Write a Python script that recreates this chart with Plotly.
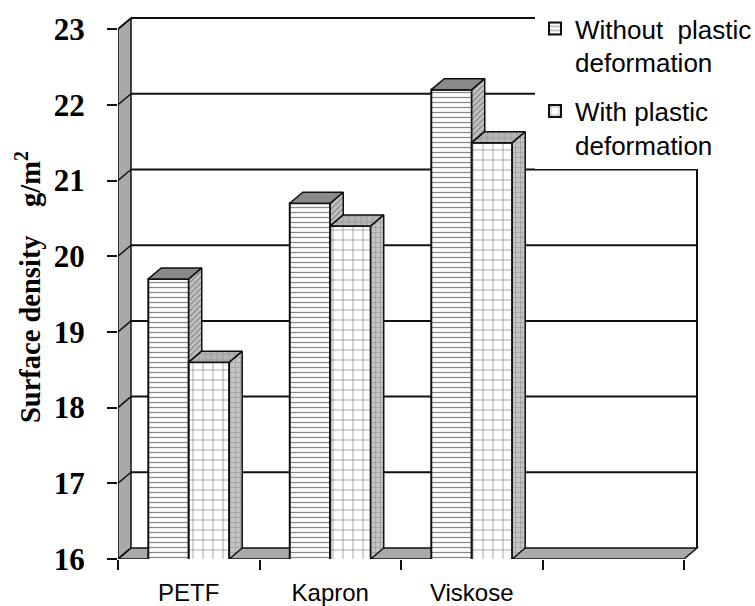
import plotly.graph_objects as go

# ---- data -------------------------------------------------------------
categories = ["PETF", "Kapron", "Viskose"]
series_names = ["Without\u00a0 plastic<br>deformation", "With plastic<br>deformation"]
without_plastic = [19.7, 20.7, 22.2]
with_plastic = [18.6, 20.4, 21.5]
y_ticks = [16, 17, 18, 19, 20, 21, 22, 23]
n_slots = 4  # category slots on the x axis (last one left empty)

# ---- geometry -----------------------------------------------------------
W, H = 755, 606
M_L, M_R, M_T, M_B = 118, 55, 15, 47
SLOT_PX = 141.5          # pixels per category slot
UNIT_PX = 75.7           # pixels per g/m2
DEPTH_PX = (13, 11)      # oblique depth of the pseudo-3D box

plot_w = W - M_L - M_R
plot_h = H - M_T - M_B
x_range = [0, plot_w / SLOT_PX]
y_range = [y_ticks[0], y_ticks[0] + plot_h / UNIT_PX]
DX = DEPTH_PX[0] / SLOT_PX
DY = DEPTH_PX[1] / UNIT_PX
BAR_W = 0.286
Y0, Y1 = y_ticks[0], y_ticks[-1]

INK = "#111111"
WALL = "#a9a9a9"


def poly_path(pts):
    return "M " + " L ".join(f"{x},{y}" for x, y in pts) + " Z"


def poly_xy(polys):
    xs, ys = [], []
    for p in polys:
        for x, y in p + [p[0]]:
            xs.append(x)
            ys.append(y)
        xs.append(None)
        ys.append(None)
    return xs, ys


fig = go.Figure()

# ---- front faces of the columns (real bar traces) ----------------------
centers = [i + 0.5 for i in range(len(categories))]
series = [without_plastic, with_plastic]
offsets = [-BAR_W, 0.0]
patterns = [
    dict(shape="-", fgcolor=INK, bgcolor="white", size=5, solidity=0.25),
    dict(shape="+", fgcolor=INK, bgcolor="white", size=10, solidity=0.14),
]
for k, (name, vals, off, pat) in enumerate(zip(series_names, series, offsets, patterns)):
    fig.add_trace(go.Bar(
        x=centers, y=vals, name=name, offset=off, width=BAR_W,
        marker=dict(color="white", pattern=pat, line=dict(color=INK, width=2)),
        customdata=categories,
        hovertemplate="%{customdata}: %{y} g/m²<extra></extra>",
        legendgroup=f"s{k}",
    ))

# ---- oblique side and top faces -----------------------------------------
top_styles = [
    dict(fillcolor="#8a8a8a", fillpattern=None),
    dict(fillcolor="#b5b5b5",
         fillpattern=dict(shape="+", fgcolor="#555555", bgcolor="#b5b5b5", size=6, solidity=0.15)),
]
side_styles = [
    dict(fillcolor="#bdbdbd",
         fillpattern=dict(shape="/", fgcolor="#444444", bgcolor="#c4c4c4", size=4, solidity=0.3)),
    dict(fillcolor="#c4c4c4",
         fillpattern=dict(shape="+", fgcolor="#555555", bgcolor="#c4c4c4", size=5, solidity=0.2)),
]
for s, (vals, off) in enumerate(zip(series, offsets)):
    sides, tops = [], []
    for i, (c, v) in enumerate(zip(centers, vals)):
        x0 = c + off
        x1 = x0 + BAR_W
        # the neighbouring column in front hides the lower part of the side face
        lo = Y0
        if s + 1 < len(series):
            lo = max(Y0, series[s + 1][i])
        if v > lo:
            sides.append([(x1, lo), (x1, v), (x1 + DX, v + DY), (x1 + DX, lo + DY)])
        tops.append([(x0, v), (x1, v), (x1 + DX, v + DY), (x0 + DX, v + DY)])
    for polys, st in ((sides, side_styles[s]), (tops, top_styles[s])):
        xs, ys = poly_xy(polys)
        kw = dict(x=xs, y=ys, mode="lines", fill="toself",
                  fillcolor=st["fillcolor"], line=dict(color=INK, width=1.5),
                  hoverinfo="skip", showlegend=False)
        if st["fillpattern"]:
            kw["fillpattern"] = st["fillpattern"]
        fig.add_trace(go.Scatter(**kw))

# ---- box: left wall, floor, back grid -----------------------------------
x_end = n_slots
shapes = []
shapes.append(dict(type="path", layer="below", xref="x", yref="y",
                   path=poly_path([(0, Y0), (0, Y1), (DX, Y1 + DY), (DX, Y0 + DY)]),
                   fillcolor=WALL, line=dict(color=INK, width=1.5)))
shapes.append(dict(type="path", layer="below", xref="x", yref="y",
                   path=poly_path([(0, Y0), (x_end, Y0), (x_end + DX, Y0 + DY), (DX, Y0 + DY)]),
                   fillcolor=WALL, line=dict(color=INK, width=1.5)))
for t in y_ticks:
    shapes.append(dict(type="line", layer="below", xref="x", yref="y",
                       x0=0, y0=t, x1=DX, y1=t + DY, line=dict(color=INK, width=1.5)))
    if t > Y0:
        shapes.append(dict(type="line", layer="below", xref="x", yref="y",
                           x0=DX, y0=t + DY, x1=x_end + DX, y1=t + DY,
                           line=dict(color=INK, width=2)))
shapes.append(dict(type="line", layer="below", xref="x", yref="y",
                   x0=x_end + DX, y0=Y0 + DY, x1=x_end + DX, y1=Y1 + DY,
                   line=dict(color=INK, width=2)))

fig.update_layout(
    width=W, height=H,
    margin=dict(l=M_L, r=M_R, t=M_T, b=M_B, autoexpand=False),
    paper_bgcolor="white", plot_bgcolor="white",
    font=dict(family="Liberation Sans", color="black"),
    barmode="overlay",
    shapes=shapes,
    showlegend=True,
    legend=dict(
        x=(535 - M_L) / plot_w, y=(H - M_B - 5) / plot_h,
        xanchor="left", yanchor="top",
        bgcolor="white", borderwidth=0,
        font=dict(family="Liberation Sans", size=26, color="black"),
        valign="top", tracegroupgap=12,
    ),
    xaxis=dict(
        range=x_range, showgrid=False, zeroline=False, showline=False,
        tickmode="array", tickvals=centers, ticktext=categories, ticks="",
        tickfont=dict(family="Liberation Sans", size=24, color="black"),
        ticklabelstandoff=17,
        minor=dict(tickmode="array", tickvals=list(range(n_slots + 1)),
                   ticks="outside", ticklen=10, tickwidth=1.5, tickcolor=INK),
    ),
    yaxis=dict(
        range=y_range, showgrid=False, zeroline=False, showline=False,
        tickmode="array", tickvals=y_ticks,
        ticktext=[f"<b>{t}</b>" for t in y_ticks],
        ticks="outside", ticklen=10, tickwidth=1.5, tickcolor=INK,
        tickfont=dict(family="Liberation Serif", size=31, color="black", weight="bold"),
        ticklabelstandoff=16,
        title=dict(text="<b>Surface density\u00a0\u00a0\u00a0 g/m<sup>2</sup></b>",
                   font=dict(family="Liberation Serif", size=28.5, color="black"),
                   standoff=4),
    ),
)

fig.write_html("out.html")
